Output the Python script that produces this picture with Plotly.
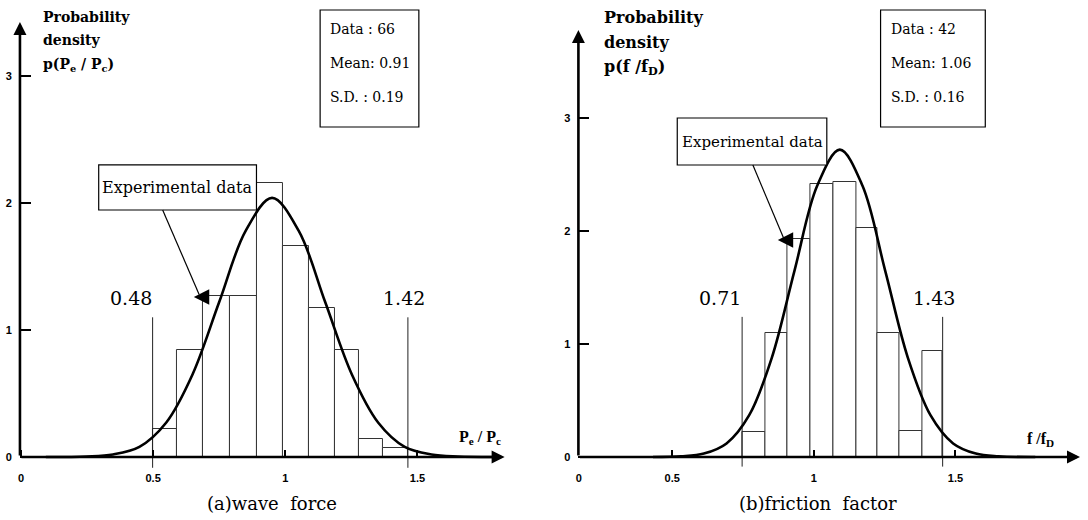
import plotly.graph_objects as go

W, H = 1088, 520

# ---------------- data ----------------
# (a) wave force
a_edges = [0.498, 0.589, 0.687, 0.789, 0.891, 0.992, 1.091, 1.189, 1.279, 1.370, 1.464]
a_density = [0.22, 0.84, 1.27, 1.27, 2.16, 1.66, 1.17, 0.84, 0.14, 0.07]
a_curve_x = [0.094, 0.248, 0.348, 0.448, 0.549, 0.649, 0.750, 0.850, 0.950, 1.051, 1.151, 1.252, 1.352, 1.452, 1.553, 1.653, 1.785]
a_curve_y = [0.0, 0.004, 0.02, 0.08, 0.27, 0.65, 1.22, 1.78, 2.04, 1.78, 1.22, 0.65, 0.27, 0.08, 0.02, 0.004, 0.0]
a_bounds = [0.498, 1.464]
a_bound_labels = ["0.48", "1.42"]
a_stats = ["Data : 66", "Mean: 0.91", "S.D. : 0.19"]

# (b) friction factor
b_edges = [0.747, 0.830, 0.906, 0.987, 1.068, 1.151, 1.225, 1.301, 1.383, 1.455]
b_density = [0.22, 1.10, 1.93, 2.42, 2.43, 2.03, 1.10, 0.23, 0.94]
b_curve_x = [0.432, 0.532, 0.612, 0.692, 0.772, 0.852, 0.932, 1.012, 1.092, 1.172, 1.252, 1.332, 1.412, 1.492, 1.572, 1.652, 1.782]
b_curve_y = [0.0, 0.006, 0.03, 0.12, 0.37, 0.88, 1.65, 2.40, 2.72, 2.40, 1.65, 0.88, 0.37, 0.12, 0.03, 0.006, 0.0]
b_bounds = [0.747, 1.455]
b_bound_labels = ["0.71", "1.43"]
b_stats = ["Data : 42", "Mean: 1.06", "S.D. : 0.16"]

x_ticks = [0, 0.5, 1, 1.5]
x_tick_text = ["0", "0.5", "1", "1.5"]
y_ticks = [0, 1, 2, 3]

# ---------------- layout helpers ----------------
def px(x):
    return x / W

def py(y):
    return 1 - y / H

SERIF = "DejaVu Serif"
SANS = "Liberation Sans"

# panel geometry (pixels)
A = dict(x0=17, x1=503, xr=(-0.004, 1.83), ybase=457, ytop=22, yunit=127.0, ylow=-0.1)
B = dict(x0=577, x1=1080, xr=(0.169, 1.940), ybase=457, ytop=30, yunit=113.0, ylow=-0.1)

fig = go.Figure()


def mids_widths(edges):
    m = [(edges[i] + edges[i + 1]) / 2 for i in range(len(edges) - 1)]
    w = [edges[i + 1] - edges[i] for i in range(len(edges) - 1)]
    return m, w


def add_panel(edges, dens, cx, cy, bounds, xa, ya, line_top):
    m, w = mids_widths(edges)
    fig.add_trace(go.Bar(x=m, y=dens, width=w, xaxis=xa, yaxis=ya,
                         marker=dict(color="white", line=dict(color="#333", width=1)),
                         hoverinfo="skip"))
    for b in bounds:
        fig.add_trace(go.Scatter(x=[b, b], y=[-0.085, line_top], xaxis=xa, yaxis=ya,
                                 mode="lines", line=dict(color="#222", width=1),
                                 hoverinfo="skip"))
    fig.add_trace(go.Scatter(x=cx, y=cy, xaxis=xa, yaxis=ya, mode="lines",
                             line=dict(color="black", width=2.6, shape="spline", smoothing=1.0),
                             hoverinfo="skip"))


A_TOP, B_TOP = 1.10, 1.24
add_panel(a_edges, a_density, a_curve_x, a_curve_y, a_bounds, "x", "y", A_TOP)
add_panel(b_edges, b_density, b_curve_x, b_curve_y, b_bounds, "x2", "y2", B_TOP)


def axis_cfg(P, tickvals, ticktext):
    yr = (P["ybase"] - P["ytop"]) / P["yunit"]
    ybottom_px = P["ybase"] - P["ylow"] * P["yunit"]
    xa = dict(domain=[px(P["x0"]), px(P["x1"])], range=list(P["xr"]),
              showgrid=False, zeroline=False, showline=False,
              tickvals=tickvals, ticktext=ticktext, ticks="inside", ticklen=7,
              tickwidth=2, tickcolor="black", anchor="free", position=py(P["ybase"]),
              tickfont=dict(family=SANS, size=11, color="black", weight="bold"),
              ticklabelstandoff=13)
    ya = dict(domain=[py(ybottom_px), py(P["ytop"])], range=[P["ylow"], yr],
              showgrid=False, zeroline=False, showline=False,
              tickvals=y_ticks, ticks="inside", ticklen=11, tickwidth=2,
              tickcolor="black",
              tickfont=dict(family=SANS, size=11, color="black", weight="bold"),
              ticklabelstandoff=7)
    return xa, ya, yr


xa1, ya1, yr1 = axis_cfg(A, x_ticks, x_tick_text)
xa2, ya2, yr2 = axis_cfg(B, [B["xr"][0] + 0.001] + x_ticks[1:], x_tick_text)
ya1["anchor"] = "x"
ya2["anchor"] = "x2"

annotations = []
shapes = []

# axes drawn as arrows
for (xref, yref, P, yr) in [("x", "y", A, yr1), ("x2", "y2", B, yr2)]:
    annotations.append(dict(x=P["xr"][1], y=0, ax=P["xr"][0], ay=0, xref=xref, yref=yref,
                            axref=xref, ayref=yref, showarrow=True, arrowhead=2,
                            arrowsize=1, arrowwidth=2.6, arrowcolor="black", text=""))
    annotations.append(dict(x=P["xr"][0], y=yr, ax=P["xr"][0], ay=0, xref=xref, yref=yref,
                            axref=xref, ayref=yref, showarrow=True, arrowhead=2,
                            arrowsize=1, arrowwidth=2.6, arrowcolor="black", text=""))

# bound labels
for (bounds, labels, xref, yref, top, rshift) in [(a_bounds, a_bound_labels, "x", "y", A_TOP, -4),
                                                  (b_bounds, b_bound_labels, "x2", "y2", B_TOP, -9)]:
    for i, (b, lab) in enumerate(zip(bounds, labels)):
        annotations.append(dict(x=b, y=top, xref=xref, yref=yref, text=lab, showarrow=False,
                                yanchor="bottom", xanchor="center", yshift=6,
                                xshift=-22 if i == 0 else rshift,
                                font=dict(family=SERIF, size=19, color="black")))

# "Experimental data" boxes + arrows
def exp_box(xref, yref, x0, x1, y0, y1, start, edges, dens, fsize):
    shapes.append(dict(type="rect", xref=xref, yref=yref, x0=x0, x1=x1, y0=y0, y1=y1,
                       line=dict(color="black", width=1.2), fillcolor="white", layer="above"))
    annotations.append(dict(x=(x0 + x1) / 2, y=(y0 + y1) / 2, xref=xref, yref=yref,
                            text="Experimental data", showarrow=False,
                            xanchor="center", yanchor="middle",
                            font=dict(family=SERIF, size=fsize, color="black")))
    tipx, tipy = edges[2] - 0.033, dens[2] - 0.01
    shapes.append(dict(type="line", xref=xref, yref=yref, x0=start[0], y0=start[1],
                       x1=tipx + 0.02, y1=tipy + 0.02, line=dict(color="black", width=1.2)))
    annotations.append(dict(x=tipx, y=tipy, ax=tipx + 0.035, ay=tipy, xref=xref, yref=yref,
                            axref=xref, ayref=yref, showarrow=True, arrowhead=2,
                            arrowsize=2.2, arrowwidth=1.4, arrowcolor="black", text=""))


exp_box("x", "y", 0.294, 0.891, 1.945, 2.30, (0.536, 1.945), a_edges, a_density, 16)
exp_box("x2", "y2", 0.518, 1.046, 2.584, 3.0, (0.785, 2.584), b_edges, b_density, 15)

# statistics boxes
def stats_box(x0, x1, y0, y1, lines):
    shapes.append(dict(type="rect", xref="paper", yref="paper", x0=px(x0), x1=px(x1),
                       y0=py(y1), y1=py(y0), line=dict(color="black", width=1.2)))
    for i, t in enumerate(lines):
        annotations.append(dict(x=px(x0 + 8), y=py(y0 + 19 + 34 * i), xref="paper", yref="paper",
                                text=t, showarrow=False, xanchor="left", yanchor="middle",
                                font=dict(family=SERIF, size=14, color="black")))


stats_box(318, 417, 10, 127, a_stats)
stats_box(880, 985, 10, 127, b_stats)

# axis titles
def title_lines(x, ys, lines, size):
    for y, t in zip(ys, lines):
        annotations.append(dict(x=px(x), y=py(y), xref="paper", yref="paper", text=t,
                                showarrow=False, xanchor="left", yanchor="middle",
                                font=dict(family=SERIF, size=size, color="black", weight="bold")))


title_lines(38, [17, 40, 65], ["Probability", "density", "p(P<sub>e</sub> / P<sub>c</sub>)"], 14)
title_lines(601, [18, 42, 67], ["Probability", "density", "p(f /f<sub>D</sub>)"], 16)

# axis end labels
annotations.append(dict(x=px(478), y=py(437), xref="paper", yref="paper",
                        text="P<sub>e</sub> / P<sub>c</sub>", showarrow=False,
                        xanchor="center", yanchor="middle",
                        font=dict(family="Liberation Serif", size=16, color="black", weight="bold")))
annotations.append(dict(x=px(1040), y=py(439), xref="paper", yref="paper",
                        text="f /f<sub>D</sub>", showarrow=False,
                        xanchor="center", yanchor="middle",
                        font=dict(family="Liberation Serif", size=16, color="black", weight="bold")))

# captions
annotations.append(dict(x=px(270), y=py(503), xref="paper", yref="paper",
                        text="(a)wave\u00a0 force", showarrow=False,
                        xanchor="center", yanchor="middle",
                        font=dict(family=SERIF, size=18, color="black")))
annotations.append(dict(x=px(817), y=py(503), xref="paper", yref="paper",
                        text="(b)friction\u00a0 factor", showarrow=False,
                        xanchor="center", yanchor="middle",
                        font=dict(family=SERIF, size=18, color="black")))

fig.update_layout(
    width=W, height=H, margin=dict(l=0, r=0, t=0, b=0),
    paper_bgcolor="white", plot_bgcolor="white", showlegend=False,
    xaxis=xa1, yaxis=ya1, xaxis2=xa2, yaxis2=ya2,
    annotations=annotations, shapes=shapes, bargap=0,
)

fig.write_html("out.html")
